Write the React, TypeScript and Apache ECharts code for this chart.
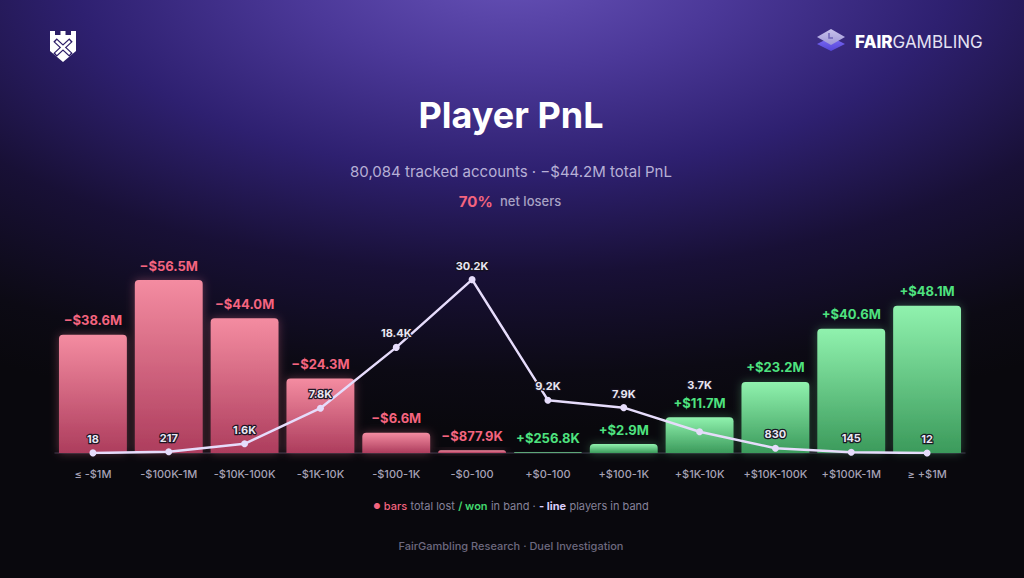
import React, { useEffect, useRef } from "react";
import * as echarts from "echarts";

const categories = [
  "≤ -$1M",
  "-$100K-1M",
  "-$10K-100K",
  "-$1K-10K",
  "-$100-1K",
  "-$0-100",
  "+$0-100",
  "+$100-1K",
  "+$1K-10K",
  "+$10K-100K",
  "+$100K-1M",
  "≥ +$1M",
];
const pnlValues = [
  -38.6e6, -56.5e6, -44.0e6, -24.3e6, -6.6e6, -877.9e3, 256.8e3, 2.9e6, 11.7e6,
  23.2e6, 40.6e6, 48.1e6,
];
const playerCounts = [18, 217, 1600, 7800, 18400, 30200, 9200, 7900, 3700, 830, 145, 12];
const pnlAxisMax = 75e6;
const playersAxisMax = 40000;

const titleText = "Player PnL";
const subtitleText = "80,084 tracked accounts · −$44.2M total PnL";
const loserShare = "70%";

const RED = "#f4647f";
const GREEN = "#4ee27f";
const FONT = "Inter, 'Noto Sans', sans-serif";

function fmtMoney(v: number): string {
  const a = Math.abs(v);
  const s = v < 0 ? "−" : "+";
  return a >= 1e6 ? `${s}$${(a / 1e6).toFixed(1)}M` : `${s}$${(a / 1e3).toFixed(1)}K`;
}
function fmtPlayers(v: number): string {
  return v >= 1000 ? `${(v / 1000).toFixed(1)}K` : String(v);
}

export default function App() {
  const ref = useRef<HTMLDivElement>(null);
  useEffect(() => {
    if (!ref.current) return;
    const chart = echarts.init(ref.current, null, { renderer: "svg" });
    const redGrad = new echarts.graphic.LinearGradient(0, 0, 0, 1, [
      { offset: 0, color: "#f48ca1" },
      { offset: 1, color: "#ad3d5d" },
    ]);
    const greenGrad = new echarts.graphic.LinearGradient(0, 0, 0, 1, [
      { offset: 0, color: "#90f2ae" },
      { offset: 1, color: "#3b9a5b" },
    ]);
    const barData = pnlValues.map((v) => ({
      value: Math.abs(v),
      itemStyle: {
        color: v < 0 ? redGrad : greenGrad,
        borderRadius: [4, 4, 0, 0],
        shadowBlur: 10,
        shadowColor: v < 0 ? "rgba(244,120,150,0.35)" : "rgba(120,235,160,0.3)",
      },
      label: { color: v < 0 ? RED : GREEN },
    }));
    const lineData = playerCounts.map((v, i) =>
      i === 8 ? { value: v, label: { offset: [0, -33] } } : { value: v }
    );

    chart.setOption({
      animation: false,
      backgroundColor: "transparent",
      textStyle: { fontFamily: FONT },
      grid: { left: 55, right: 59, top: 223.4, bottom: 125, containLabel: false },
      xAxis: {
        type: "category",
        data: categories,
        axisLine: { lineStyle: { color: "#2b2736", width: 1.5 } },
        axisTick: { show: false },
        axisLabel: {
          color: "#a6a2b6",
          fontSize: 11,
          fontWeight: 500,
          margin: 15,
          interval: 0,
          fontFamily: FONT,
        },
      },
      yAxis: [
        { type: "value", min: 0, max: pnlAxisMax, show: false, splitLine: { show: false } },
        { type: "value", min: 0, max: playersAxisMax, show: false, splitLine: { show: false } },
      ],
      series: [
        {
          type: "bar",
          yAxisIndex: 0,
          data: barData,
          barWidth: "89.5%",
          z: 2,
          label: {
            show: true,
            position: "top",
            distance: 8,
            fontSize: 13,
            fontWeight: 700,
            fontFamily: FONT,
            formatter: (p: any) => fmtMoney(pnlValues[p.dataIndex]),
          },
        },
        {
          type: "line",
          yAxisIndex: 1,
          data: lineData,
          z: 5,
          symbol: "circle",
          symbolSize: 7,
          lineStyle: { color: "#e6dcfb", width: 2.5 },
          itemStyle: { color: "#e6dcfb" },
          label: {
            show: true,
            position: "top",
            distance: 5,
            fontSize: 11,
            fontWeight: 700,
            color: "#e9e6f2",
            textBorderColor: "rgba(22,18,32,0.95)",
            textBorderWidth: 2.5,
            fontFamily: FONT,
            formatter: (p: any) => fmtPlayers(p.value),
          },
        },
      ],
      graphic: [
        // left shield logo
        {
          type: "polygon",
          shape: {
            points: [
              [50, 31], [55, 31], [55, 35], [60.5, 35], [60.5, 31], [65.5, 31], [65.5, 35],
              [71, 35], [71, 31], [76, 31], [76, 51], [63, 62], [50, 51],
            ],
          },
          style: { fill: "#ffffff" },
        },
        { type: "line", shape: { x1: 55, y1: 40, x2: 71, y2: 55 }, style: { stroke: "#2a1a66", lineWidth: 5 } },
        { type: "line", shape: { x1: 71, y1: 40, x2: 55, y2: 55 }, style: { stroke: "#2a1a66", lineWidth: 5 } },
        { type: "line", shape: { x1: 56, y1: 41, x2: 70, y2: 54 }, style: { stroke: "#ffffff", lineWidth: 2.5 } },
        { type: "line", shape: { x1: 70, y1: 41, x2: 56, y2: 54 }, style: { stroke: "#ffffff", lineWidth: 2.5 } },
        // right logo icon
        {
          type: "polygon",
          shape: { points: [[831, 37], [845, 44], [831, 51], [817, 44]] },
          style: {
            fill: new echarts.graphic.LinearGradient(0, 0, 0, 1, [
              { offset: 0, color: "#7d6cf5" },
              { offset: 1, color: "#5546d8" },
            ]),
          },
        },
        {
          type: "polygon",
          shape: { points: [[831, 29], [845, 37], [831, 45], [817, 37]] },
          style: {
            fill: new echarts.graphic.LinearGradient(0, 0, 0, 1, [
              { offset: 0, color: "#c9c3ec" },
              { offset: 1, color: "#9d95d6" },
            ]),
          },
        },
        {
          type: "polyline",
          shape: { points: [[829, 33], [829, 38], [833, 38]] },
          style: { stroke: "#6f64b8", lineWidth: 1.5, fill: "none" },
        },
        {
          type: "text",
          x: 855,
          y: 42,
          style: {
            text: "{a|FAIR}{b|GAMBLING}",
            textVerticalAlign: "middle",
            textAlign: "left",
            rich: {
              a: { fontSize: 17, fontWeight: 800, fill: "#ffffff", fontFamily: FONT },
              b: { fontSize: 17, fontWeight: 400, fill: "#e4e1f2", fontFamily: FONT },
            },
          },
        },
        // title block
        {
          type: "text",
          x: 511,
          y: 115,
          style: {
            text: titleText,
            textAlign: "center",
            textVerticalAlign: "middle",
            fontSize: 36,
            fontWeight: 700,
            fill: "#ffffff",
            fontFamily: FONT,
          },
        },
        {
          type: "text",
          x: 511,
          y: 171,
          style: {
            text: subtitleText,
            textAlign: "center",
            textVerticalAlign: "middle",
            fontSize: 15,
            fontWeight: 400,
            fill: "#b7b0d6",
            fontFamily: FONT,
          },
        },
        {
          type: "text",
          x: 510,
          y: 201,
          style: {
            text: `{a|${loserShare}}{sp|  }{b|net losers}`,
            textAlign: "center",
            textVerticalAlign: "middle",
            rich: {
              a: { fontSize: 15, fontWeight: 700, fill: "#f4647f", fontFamily: FONT },
              sp: { fontSize: 13, fill: "#a8a2c4", fontFamily: FONT },
              b: { fontSize: 13, fontWeight: 500, fill: "#a8a2c4", fontFamily: FONT },
            },
          },
        },
        // legend line
        {
          type: "text",
          x: 511,
          y: 506,
          style: {
            text:
              "{dot|●} {r|bars} {g|total lost} {gr|/ won} {g|in band ·} {l|- line} {g|players in band}",
            textAlign: "center",
            textVerticalAlign: "middle",
            rich: {
              dot: { fontSize: 8, fill: RED, fontFamily: FONT },
              r: { fontSize: 11, fontWeight: 500, fill: RED, fontFamily: FONT },
              g: { fontSize: 11, fontWeight: 400, fill: "#86829a", fontFamily: FONT },
              gr: { fontSize: 11, fontWeight: 600, fill: "#42d96f", fontFamily: FONT },
              l: { fontSize: 11, fontWeight: 700, fill: "#d9cdfb", fontFamily: FONT },
            },
          },
        },
        {
          type: "text",
          x: 511,
          y: 546,
          style: {
            text: "FairGambling Research · Duel Investigation",
            textAlign: "center",
            textVerticalAlign: "middle",
            fontSize: 11,
            fontWeight: 500,
            fill: "#6d697f",
            fontFamily: FONT,
          },
        },
      ],
    });
    return () => chart.dispose();
  }, []);

  return (
    <div
      style={{
        position: "fixed",
        left: 0,
        top: 0,
        width: 1024,
        height: 578,
        background:
          "radial-gradient(ellipse 1000px 460px at 512px -30px, #6752b8 0%, #4b3898 22%, #2e2070 44%, #181036 66%, #0c0a14 88%, #09080d 100%)",
        backgroundColor: "#09080d",
      }}
    >
      <div ref={ref} style={{ width: 1024, height: 578 }} />
    </div>
  );
}
